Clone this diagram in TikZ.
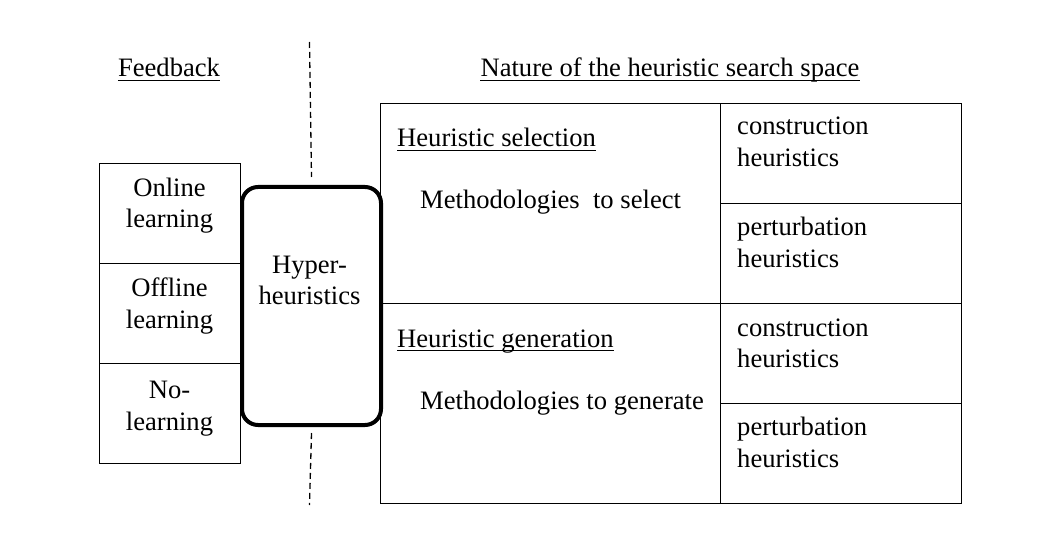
\documentclass[tikz,border=0pt]{standalone}
\usepackage{fontspec}
\setmainfont{Liberation Serif}
\begin{document}
\begin{tikzpicture}[x=1pt,y=-1pt,
  cell/.style={draw, line width=1.4pt, anchor=north west, inner sep=0pt},
  lbl/.style={inner sep=0pt, font=\fontsize{26.6}{32}\selectfont},
  ctr/.style={lbl, anchor=base},
  lft/.style={lbl, anchor=base west},
  uline/.style={line width=1.3pt},
  sep/.style={line width=1.3pt, dash pattern=on 6pt off 4pt},
  hyperbox/.style={draw, line width=4pt, rounded corners=16pt, anchor=north west, inner sep=0pt}]
\useasboundingbox[fill=white] (0,0) rectangle (1042,548);

% headings
\node[ctr] (fb) at (169,77) {Feedback};
\draw[uline] ([yshift=-3.5pt]fb.base west) -- ([yshift=-3.5pt]fb.base east);
\node[ctr] (nat) at (670,77) {Nature of the heuristic search space};
\draw[uline] ([yshift=-3.5pt]nat.base west) -- ([yshift=-3.5pt]nat.base east);

% feedback boxes
\node[cell, minimum width=141pt, minimum height=100pt] (onl) at (99,163) {};
\node[cell, minimum width=141pt, minimum height=100pt] (off) at (99,263) {};
\node[cell, minimum width=141pt, minimum height=100pt] (nol) at (99,363) {};
\node[ctr] (onlA) at (169.5,197) {Online};
\node[ctr] (onlB) at (169.5,228) {learning};
\node[ctr] (offA) at (169.5,297) {Offline};
\node[ctr] (offB) at (169.5,328) {learning};
\node[ctr] (nolA) at (169.5,398) {No-};
\node[ctr] (nolB) at (169.5,430) {learning};

% table
\node[cell, minimum width=340pt, minimum height=200pt] (sel) at (380,103) {};
\node[cell, minimum width=340pt, minimum height=200pt] (gen) at (380,303) {};
\node[cell, minimum width=241pt, minimum height=100pt] (c1) at (720,103) {};
\node[cell, minimum width=241pt, minimum height=100pt] (c2) at (720,203) {};
\node[cell, minimum width=241pt, minimum height=100pt] (c3) at (720,303) {};
\node[cell, minimum width=241pt, minimum height=100pt] (c4) at (720,403) {};

\node[lft] (hs) at (397,147) {Heuristic selection};
\draw[uline] ([yshift=-3.5pt]hs.base west) -- ([yshift=-3.5pt]hs.base east);
\node[lft] (ms) at (420,209) {Methodologies\ \ to select};
\node[lft] (hg) at (397,347) {Heuristic generation};
\draw[uline] ([yshift=-3.5pt]hg.base west) -- ([yshift=-3.5pt]hg.base east);
\node[lft] (mg) at (420,409) {Methodologies to generate};

\node[lft] (c1a) at (737,135) {construction};
\node[lft] (c1b) at (737,167) {heuristics};
\node[lft] (c2a) at (737,236) {perturbation};
\node[lft] (c2b) at (737,268) {heuristics};
\node[lft] (c3a) at (737,336) {construction};
\node[lft] (c3b) at (737,367) {heuristics};
\node[lft] (c4a) at (737,435) {perturbation};
\node[lft] (c4b) at (737,467) {heuristics};

% hyper-heuristics box
\node[hyperbox, fill=white, minimum width=139pt, minimum height=238pt] (hh) at (240,185) {};
\node[ctr] (hhA) at (309.5,273) {Hyper-};
\node[ctr] (hhB) at (309.5,305) {heuristics};

% dashed separator
\coordinate (dtop) at (309.5,42);
\coordinate (dbot) at (309.5,505);
\draw[sep] (dtop) -- ([yshift=8pt]hh.north);
\draw[sep] ([yshift=-6pt]hh.south) -- (dbot);
\end{tikzpicture}
\end{document}
